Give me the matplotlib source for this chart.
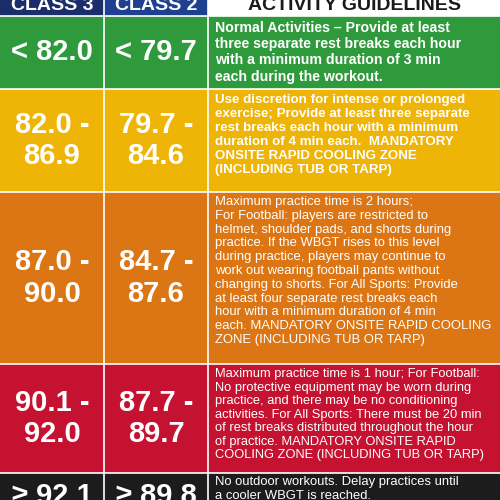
import matplotlib.pyplot as plt
from matplotlib.patches import Rectangle

# table contents
headers = ["CLASS 3", "CLASS 2", "ACTIVITY GUIDELINES"]
class3 = ["< 82.0", "82.0 -\n86.9", "87.0 -\n90.0", "90.1 -\n92.0", "\u2265 92.1"]
class2 = ["< 79.7", "79.7 -\n84.6", "84.7 -\n87.6", "87.7 -\n89.7", "\u2265 89.8"]
guidelines = [
    "Normal Activities \u2013 Provide at least\nthree separate rest breaks each hour\n"
    "with a minimum duration of 3 min\neach during the workout.",
    "Use discretion for intense or prolonged\nexercise; Provide at least three separate\n"
    "rest breaks each hour with a minimum\nduration of 4 min each.  MANDATORY\n"
    "ONSITE RAPID COOLING ZONE\n(INCLUDING TUB OR TARP)",
    "Maximum practice time is 2 hours;\nFor Football: players are restricted to\n"
    "helmet, shoulder pads, and shorts during\npractice. If the WBGT rises to this level\n"
    "during practice, players may continue to\nwork out wearing football pants without\n"
    "changing to shorts. For All Sports: Provide\nat least four separate rest breaks each\n"
    "hour with a minimum duration of 4 min\neach. MANDATORY ONSITE RAPID COOLING\n"
    "ZONE (INCLUDING TUB OR TARP)",
    "Maximum practice time is 1 hour; For Football:\nNo protective equipment may be worn during\n"
    "practice, and there may be no conditioning\nactivities. For All Sports: There must be 20 min\n"
    "of rest breaks distributed throughout the hour\nof practice. MANDATORY ONSITE RAPID\n"
    "COOLING ZONE (INCLUDING TUB OR TARP)",
    "No outdoor workouts. Delay practices until\na cooler WBGT is reached.",
]
row_colors = ["#2f9a3c", "#eeb406", "#dc7614", "#c41230", "#1c1c1c"]
row_edges = [16, 89, 192, 364, 473, 530]
col_edges = [0, 104, 208, 500]
header_colors = ["#1b2d6b", "#1f3f90", "#ffffff"]

FONT = ["Liberation Sans", "DejaVu Sans"]
# per-row guideline text style: (size, weight, linespacing, top offset)
guide_style = [(10.2, "bold", 1.2, 5), (9.6, "bold", 1.22, 5),
               (9.4, "normal", 1.2, 4), (9.3, "normal", 1.17, 4), (9.4, "normal", 1.2, 3)]

fig = plt.figure(figsize=(5, 5), dpi=100)
ax = fig.add_axes([0, 0, 1, 1])
ax.set_xlim(0, 500)
ax.set_ylim(500, 0)
ax.axis("off")

# header
for i, h in enumerate(headers):
    x0, x1 = col_edges[i], col_edges[i + 1]
    ax.add_patch(Rectangle((x0, -20), x1 - x0, 36, fc=header_colors[i], ec="none"))
    ax.text((x0 + x1) / 2, 5, h, ha="center", va="center", fontsize=14, fontweight="bold",
            color="#1a1a1a" if i == 2 else "white", family=FONT)

for r, color in enumerate(row_colors):
    y0, y1 = row_edges[r], row_edges[r + 1]
    ax.add_patch(Rectangle((0, y0), 500, y1 - y0, fc=color, ec="none"))
    ym = (y0 + y1) / 2 if r < 4 else 496
    for c, vals in enumerate([class3, class2]):
        ax.text((col_edges[c] + col_edges[c + 1]) / 2, ym, vals[r], ha="center", va="center",
                fontsize=21, fontweight="bold", color="white", family=FONT, linespacing=1.15)
    size, weight, ls, off = guide_style[r]
    ax.text(215, y0 + off, guidelines[r], ha="left", va="top", color="white", family=FONT,
            fontsize=size, fontweight=weight, linespacing=ls)

# grid lines
for x in col_edges[1:-1]:
    ax.plot([x, x], [0, 500], color="white", lw=1.2)
for y in row_edges[:-1]:
    ax.plot([0, 500], [y, y], color="white", lw=1.2)

fig.savefig("out.png", dpi=100)
